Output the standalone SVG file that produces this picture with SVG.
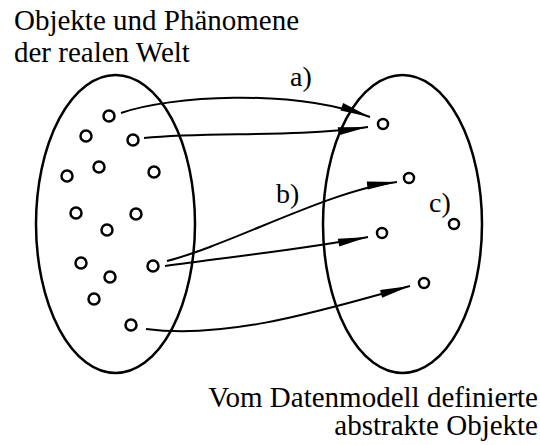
<svg xmlns="http://www.w3.org/2000/svg" width="540" height="445" viewBox="0 0 540 445">
  <style>
    .set { fill: none; stroke: #000; stroke-width: 2.5; }
    .pt { fill: #fff; stroke: #000; stroke-width: 2.5; }
    .conn { fill: none; stroke: #000; stroke-width: 2; marker-end: url(#arrow); }
    .txt { font-family: "Liberation Serif", "Times New Roman", serif; font-size: 29px; fill: #000; }
    .lbl { font-family: "Liberation Serif", "Times New Roman", serif; font-size: 28px; fill: #000; }
  </style>
  <defs>
    <marker id="arrow" markerUnits="userSpaceOnUse" markerWidth="32" markerHeight="10" refX="30" refY="4" orient="auto" overflow="visible">
      <path d="M0,0 L30,4 L0,8 Z" fill="#000"/>
    </marker>
  </defs>
  <rect width="540" height="445" fill="#fff"/>

  <g id="title-real">
    <text class="txt" x="14" y="30">Objekte und Phänomene</text>
    <text class="txt" x="14" y="62">der realen Welt</text>
  </g>
  <g id="title-abstract">
    <text class="txt" x="538" y="407" text-anchor="end">Vom Datenmodell definierte</text>
    <text class="txt" x="538" y="435" text-anchor="end">abstrakte Objekte</text>
  </g>

  <g id="real-world">
    <ellipse class="set" cx="115.5" cy="224" rx="79.5" ry="149"/>
    <circle class="pt" cx="109" cy="116" r="5.5"/>
    <circle class="pt" cx="86" cy="136" r="5.5"/>
    <circle class="pt" cx="133" cy="140" r="5.5"/>
    <circle class="pt" cx="99" cy="167" r="5.5"/>
    <circle class="pt" cx="67" cy="176" r="5.5"/>
    <circle class="pt" cx="154" cy="172" r="5.5"/>
    <circle class="pt" cx="76" cy="213" r="5.5"/>
    <circle class="pt" cx="136" cy="214" r="5.5"/>
    <circle class="pt" cx="107" cy="230" r="5.5"/>
    <circle class="pt" cx="81" cy="263" r="5.5"/>
    <circle class="pt" cx="110" cy="277" r="5.5"/>
    <circle class="pt" cx="153" cy="266" r="5.5"/>
    <circle class="pt" cx="94" cy="299" r="5.5"/>
    <circle class="pt" cx="131" cy="325" r="5.5"/>
  </g>

  <g id="abstract-objects">
    <ellipse class="set" cx="402.5" cy="224" rx="79.5" ry="149"/>
    <circle class="pt" cx="383" cy="124" r="5"/>
    <circle class="pt" cx="409" cy="178" r="5"/>
    <circle class="pt" cx="454" cy="224" r="5"/>
    <circle class="pt" cx="382" cy="233" r="5"/>
    <circle class="pt" cx="424" cy="283" r="5"/>
  </g>

  <g id="connectors">
    <path class="conn" d="M121,113 C170,96 290,88 370,117"/>
    <path class="conn" d="M144,138 C210,131 290,138 368,127"/>
    <path class="conn" d="M167,261 C230,245 330,190 397,182"/>
    <path class="conn" d="M165,266 C220,258 300,250 368,237"/>
    <path class="conn" d="M146,329 C230,340 330,308 410,286"/>
  </g>

  <g id="labels">
    <text class="lbl" x="290" y="86">a)</text>
    <text class="lbl" x="276" y="203">b)</text>
    <text class="lbl" x="429" y="212">c)</text>
  </g>
</svg>
